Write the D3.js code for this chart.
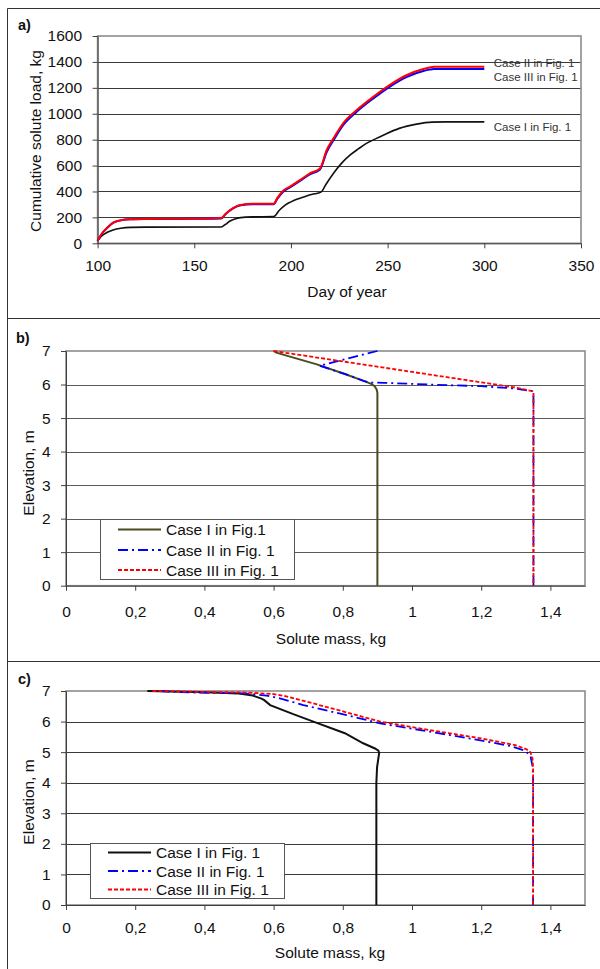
<!DOCTYPE html>
<html>
<head>
<meta charset="utf-8">
<script src="https://cdn.jsdelivr.net/npm/d3@7"></script>
<style>
  body { margin: 0; background: #fff; }
  svg { display: block; font-family: "Liberation Sans", Arial, sans-serif; }
</style>
</head>
<body>
<svg id="fig" width="600" height="969"></svg>
<script>
// --- Panel a: cumulative solute load vs day of year ---
const dayTicks = [100, 150, 200, 250, 300, 350];
const loadTicks = [0, 200, 400, 600, 800, 1000, 1200, 1400, 1600];

const caseIDay = [100, 102, 105, 108, 112, 117, 125, 164, 166, 168.5, 171, 174, 180, 191,
  194, 197, 200, 203, 207, 211, 215.5, 218, 222, 226, 230.5, 235, 239, 244, 248, 256, 265, 273, 280, 300];
const caseILoad = [20, 55, 85, 103, 116, 123, 125, 126, 145, 172, 188, 198, 204, 206,
  255, 295, 320, 340, 360, 378, 395, 452, 540, 615, 680, 730, 771, 808, 836, 887, 920, 935, 937, 937];

const caseIIDay = [100, 102, 105, 108, 112, 117, 125, 150, 164, 166, 168.5, 171, 174, 180, 191,
  193, 196, 199.5, 204.7, 209.8, 215, 218.5, 222, 227, 234, 242.6, 251, 260, 268.5, 274, 300];
const caseIILoad = [20, 70, 120, 159, 178, 186, 188, 190, 195, 225, 256, 280, 296, 305, 305,
  350, 405, 437, 488, 540, 578, 720, 810, 926, 1028, 1131, 1221, 1299, 1345, 1362, 1362];
const caseIIILoad = [20, 70, 120, 158, 177, 185, 187, 189, 192, 222, 253, 277, 293, 302, 302,
  345, 398, 432, 482, 532, 570, 705, 795, 912, 1015, 1118, 1208, 1285, 1330, 1345, 1345];

// --- Panels b, c: solute mass profiles vs elevation ---
const massTicks = [0, 0.2, 0.4, 0.6, 0.8, 1, 1.2, 1.4];
const elevTicks = [0, 1, 2, 3, 4, 5, 6, 7];

const bElevI = [7.0, 6.95, 6.9, 6.6, 6.3, 6.1, 6.02, 5.95, 5.85, 5.75, 0];
const bMassI = [0.600, 0.608, 0.625, 0.725, 0.81, 0.862, 0.882, 0.892, 0.898, 0.9, 0.9];
const bElevII = [7.0, 6.78, 6.56, 6.3, 6.1, 6.06, 6.05, 6.0, 5.95, 5.88, 5.8, 5.75, 0];
const bMassII = [0.9, 0.815, 0.733, 0.81, 0.862, 0.88, 0.92, 1.05, 1.2, 1.3, 1.348, 1.351, 1.351];
const bElevIII = [7.0, 5.91, 5.8, 5.75, 0];
const bMassIII = [0.6, 1.3, 1.348, 1.351, 1.351];

const cElevI = [7.0, 6.96, 6.92, 6.85, 6.75, 6.7, 6.54, 6.25, 6.0, 5.62, 5.29, 5.12, 5.05, 4.97, 4.5, 4.0, 0];
const cMassI = [0.235, 0.4, 0.5, 0.54, 0.565, 0.573, 0.59, 0.655, 0.715, 0.806, 0.859, 0.893, 0.903, 0.905, 0.899, 0.897, 0.897];
const cElevII = [7.0, 6.96, 6.92, 6.85, 6.76, 6.54, 6.21, 5.94, 5.67, 5.4, 5.2, 5.05, 4.9, 4.5, 4.2, 0];
const cMassII = [0.27, 0.33, 0.52, 0.58, 0.618, 0.686, 0.811, 0.908, 1.052, 1.19, 1.285, 1.325, 1.342, 1.349, 1.35, 1.35];
const cElevIII = [7.0, 6.97, 6.95, 6.9, 6.84, 6.65, 6.3, 6.0, 5.72, 5.45, 5.23, 5.1, 5.0, 4.8, 4.5, 0];
const cMassIII = [0.25, 0.4, 0.52, 0.6, 0.63, 0.696, 0.811, 0.908, 1.052, 1.2, 1.298, 1.33, 1.342, 1.348, 1.35, 1.35];

const commaFmt = d => String(d).replace('.', ',');

const svg = d3.select('#fig');

// --- outer frame round the three panels ---
svg.append('path')
  .attr('d', 'M600,8.5H7.5V969M7.5,318.5H600M7.5,661.5H600')
  .attr('fill', 'none').attr('stroke', '#333').attr('stroke-width', 1);

// --- generic panel: grid, border, axes, titles ---
function panel(cfg) {
  const x = d3.scaleLinear().domain(cfg.xDomain).range([cfg.left, cfg.right]);
  const y = d3.scaleLinear().domain(cfg.yDomain).range([cfg.bottom, cfg.top]);
  const g = svg.append('g');

  g.selectAll('line.grid').data(cfg.yTicks.slice(1, -1)).join('line')
    .attr('class', 'grid')
    .attr('x1', cfg.left).attr('x2', cfg.right)
    .attr('y1', d => Math.round(y(d)) + 0.5).attr('y2', d => Math.round(y(d)) + 0.5)
    .attr('stroke', cfg.gridColor).attr('stroke-width', 1);

  g.append('rect')
    .attr('x', cfg.left).attr('y', cfg.top)
    .attr('width', cfg.right - cfg.left).attr('height', cfg.bottom - cfg.top)
    .attr('fill', 'none').attr('stroke', '#8c8c8c').attr('stroke-width', 1.6);

  const xAxis = d3.axisBottom(x).tickValues(cfg.xTicks).tickSize(5).tickSizeOuter(0)
    .tickPadding(cfg.xPad).tickFormat(cfg.fmt || (d => d));
  const yAxis = d3.axisLeft(y).tickValues(cfg.yTicks).tickSize(5).tickSizeOuter(0)
    .tickPadding(10.5).tickFormat(d => d);

  [g.append('g').attr('transform', `translate(0,${cfg.bottom})`).call(xAxis),
   g.append('g').attr('transform', `translate(${cfg.left},0)`).call(yAxis)]
    .forEach(a => {
      a.attr('font-size', null).attr('font-family', null);
      a.select('.domain').attr('stroke', '#404040');
      a.selectAll('line').attr('stroke', '#404040');
      a.selectAll('text').attr('font-size', 15.5).attr('fill', '#111');
    });

  g.append('text').attr('x', cfg.xTitleX).attr('y', cfg.xTitleY)
    .attr('text-anchor', 'middle').attr('font-size', 15.5).attr('fill', '#111')
    .text(cfg.xTitle);
  g.append('text')
    .attr('transform', `translate(${cfg.yTitleX},${cfg.yTitleY}) rotate(-90)`)
    .attr('text-anchor', 'middle').attr('font-size', 15.5).attr('fill', '#111')
    .text(cfg.yTitle);
  g.append('text').attr('x', cfg.tagX).attr('y', cfg.tagY)
    .attr('font-size', 14.5).attr('font-weight', 'bold').attr('fill', '#111')
    .text(cfg.tag);

  return { x, y, g };
}

function legend(g, lx, ly, w, h, rows, items) {
  const lg = g.append('g');
  lg.append('rect').attr('x', lx + 0.5).attr('y', ly + 0.5).attr('width', w).attr('height', h)
    .attr('fill', '#fff').attr('stroke', '#555').attr('stroke-width', 1);
  items.forEach((it, i) => {
    const yy = ly + rows[i];
    lg.append('line').attr('x1', lx + 18).attr('x2', lx + 61).attr('y1', yy).attr('y2', yy)
      .attr('stroke', it.color).attr('stroke-width', it.width)
      .attr('stroke-dasharray', it.dash || null);
    lg.append('text').attr('x', lx + 66).attr('y', yy).attr('dy', '0.36em')
      .attr('font-size', 15.5).attr('fill', '#111').text(it.label);
  });
}

// --- a) ---
const pa = panel({
  left: 97.6, right: 581, top: 36, bottom: 243.3,
  xDomain: [100, 350], yDomain: [0, 1600], xTicks: dayTicks, yTicks: loadTicks,
  xPad: 12, gridColor: '#3a3a3a',
  xTitle: 'Day of year', xTitleX: 347, xTitleY: 297,
  yTitle: 'Cumulative solute load, kg', yTitleX: 41, yTitleY: 141,
  tag: 'a)', tagX: 18, tagY: 30
});

const lineA = d3.line().x(d => pa.x(d[0])).y(d => pa.y(d[1])).curve(d3.curveMonotoneX);
[
  { day: caseIDay, load: caseILoad, color: '#111', width: 1.6 },
  { day: caseIIDay, load: caseIIILoad, color: '#0000ff', width: 2 },
  { day: caseIIDay, load: caseIILoad, color: '#ff0000', width: 2 }
].forEach(s => {
  pa.g.append('path').datum(d3.zip(s.day, s.load))
    .attr('fill', 'none').attr('stroke', s.color).attr('stroke-width', s.width)
    .attr('d', lineA);
});

const endX = pa.x(caseIIDay[caseIIDay.length - 1]) + 9.5;
[
  { label: 'Case II in Fig. 1', v: caseIILoad[caseIILoad.length - 1], dy: 0.5 },
  { label: 'Case III in Fig. 1', v: caseIIILoad[caseIIILoad.length - 1], dy: 11.5 },
  { label: 'Case I in Fig. 1', v: caseILoad[caseILoad.length - 1], dy: 9.5 }
].forEach(l => {
  pa.g.append('text').attr('x', endX).attr('y', pa.y(l.v) + l.dy)
    .attr('font-size', 11.5).attr('fill', '#333').text(l.label);
});

// --- b) and c) profile panels ---
const profileStyles = [
  { color: '#4b4b1e', width: 2, dash: null },
  { color: '#0000ff', width: 1.8, dash: '10,4,2,4' },
  { color: '#ff0000', width: 1.8, dash: '4,2' }
];

function profiles(p, series, labels, box) {
  const ln = d3.line().x(d => p.x(d[1])).y(d => p.y(d[0]));
  series.forEach((s, i) => {
    const st = profileStyles[i];
    p.g.append('path').datum(d3.zip(s[0], s[1]))
      .attr('fill', 'none').attr('stroke', i === 0 ? box.caseIColor : st.color)
      .attr('stroke-width', st.width).attr('stroke-dasharray', st.dash)
      .attr('d', ln);
  });
  legend(p.g, box.x, box.y, box.w, box.h, box.rows,
    labels.map((label, i) => ({
      label, color: i === 0 ? box.caseIColor : profileStyles[i].color,
      width: profileStyles[i].width, dash: profileStyles[i].dash
    })));
}

const pb = panel({
  left: 66, right: 585, top: 351, bottom: 585.7,
  xDomain: [0, 1.5], yDomain: [0, 7], xTicks: massTicks, yTicks: elevTicks,
  xPad: 15, gridColor: '#5a5a5a', fmt: commaFmt,
  xTitle: 'Solute mass, kg', xTitleX: 331, xTitleY: 643.5,
  yTitle: 'Elevation, m', yTitleX: 34, yTitleY: 473,
  tag: 'b)', tagX: 16, tagY: 343
});
profiles(pb,
  [[bElevI, bMassI], [bElevII, bMassII], [bElevIII, bMassIII]],
  ['Case I in Fig.1', 'Case II in Fig. 1', 'Case III in Fig. 1'],
  { x: 100, y: 519, w: 194, h: 60, rows: [10.5, 31, 51], caseIColor: '#4b4b1e' });

const pc = panel({
  left: 66, right: 585, top: 691, bottom: 905,
  xDomain: [0, 1.5], yDomain: [0, 7], xTicks: massTicks, yTicks: elevTicks,
  xPad: 12, gridColor: '#3a3a3a', fmt: commaFmt,
  xTitle: 'Solute mass, kg', xTitleX: 330, xTitleY: 958,
  yTitle: 'Elevation, m', yTitleX: 34, yTitleY: 802,
  tag: 'c)', tagX: 18, tagY: 684
});
profiles(pc,
  [[cElevI, cMassI], [cElevII, cMassII], [cElevIII, cMassIII]],
  ['Case I in Fig. 1', 'Case II in Fig. 1', 'Case III in Fig. 1'],
  { x: 90, y: 843, w: 194, h: 55, rows: [9.5, 28, 46.5], caseIColor: '#111' });
</script>
</body>
</html>
